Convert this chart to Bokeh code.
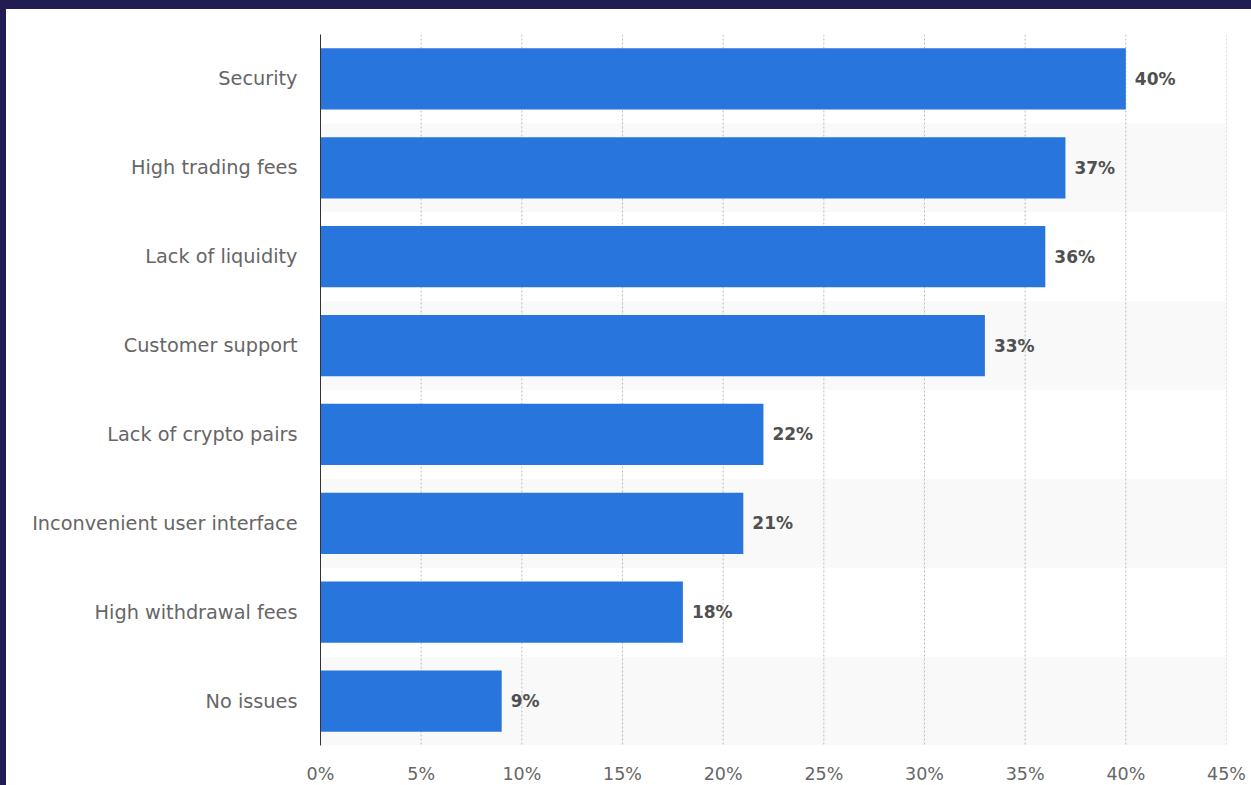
from bokeh.plotting import figure
from bokeh.models import Range1d, FixedTicker
from bokeh.layouts import column
from bokeh.core.properties import value
from bokeh.embed import file_html
from bokeh.resources import INLINE

categories = ["Security", "High trading fees", "Lack of liquidity", "Customer support",
              "Lack of crypto pairs", "Inconvenient user interface", "High withdrawal fees", "No issues"]
shares = [40, 37, 36, 33, 22, 21, 18, 9]
share_labels = ["40%", "37%", "36%", "33%", "22%", "21%", "18%", "9%"]
x_ticks = [0, 5, 10, 15, 20, 25, 30, 35, 40, 45]
x_tick_labels = ["0%", "5%", "10%", "15%", "20%", "25%", "30%", "35%", "40%", "45%"]

n = len(categories)
idx = list(range(n))
x_max = x_ticks[-1]

p = figure(frame_width=906, frame_height=711, output_backend="svg", toolbar_location=None,
           x_range=Range1d(0, x_max), y_range=Range1d(n - 0.5, -0.5),
           min_border_left=314, min_border_right=25, min_border_top=25, min_border_bottom=40,
           background_fill_color="white", border_fill_color="white")
p.outline_line_color = None
p.xgrid.visible = False
p.ygrid.visible = False
p.styles = {"background-color": "white"}

# alternating row bands
band_idx = [i for i in idx if i % 2 == 1]
p.hbar(y=band_idx, left=0, right=x_max, height=1.0, fill_color="#f9f9f9", line_color=None)

# dotted vertical grid lines
grid_x = x_ticks[1:]
p.segment(x0=grid_x, x1=grid_x, y0=[-0.5] * len(grid_x), y1=[n - 0.5] * len(grid_x),
          line_color="#bdbdbd", line_width=1, line_dash="2 2")

# bars
p.hbar(y=idx, left=0, right=shares, height=0.69, fill_color="#2876dd", line_color=None)

# value labels
p.text(x=shares, y=idx, text=share_labels, x_offset=9, text_baseline="middle", text_align="left",
       text_font=value("DejaVu Sans"), text_font_style="bold", text_font_size="17px",
       text_color="#505050")

# y axis
p.yaxis.ticker = FixedTicker(ticks=idx)
p.yaxis.major_label_overrides = {i: c for i, c in zip(idx, categories)}
p.yaxis.major_label_text_font = "DejaVu Sans"
p.yaxis.major_label_text_font_size = "19.3px"
p.yaxis.major_label_text_color = "#666666"
p.yaxis.major_label_standoff = 17
p.yaxis.major_tick_line_color = None
p.yaxis.minor_tick_line_color = None
p.yaxis.axis_line_color = "#333333"
p.yaxis.axis_line_width = 1

# x axis
p.xaxis.ticker = FixedTicker(ticks=x_ticks)
p.xaxis.major_label_overrides = {t: l for t, l in zip(x_ticks, x_tick_labels)}
p.xaxis.major_label_text_font = "DejaVu Sans"
p.xaxis.major_label_text_font_size = "17.5px"
p.xaxis.major_label_text_color = "#666666"
p.xaxis.major_label_standoff = 12
p.xaxis.major_tick_line_color = None
p.xaxis.minor_tick_line_color = None
p.xaxis.axis_line_color = None

p.margin = (9, 0, 0, 6)
layout = column(p, styles={"background-color": "#211c52"})

open("out.html", "w").write(file_html(layout, INLINE))
